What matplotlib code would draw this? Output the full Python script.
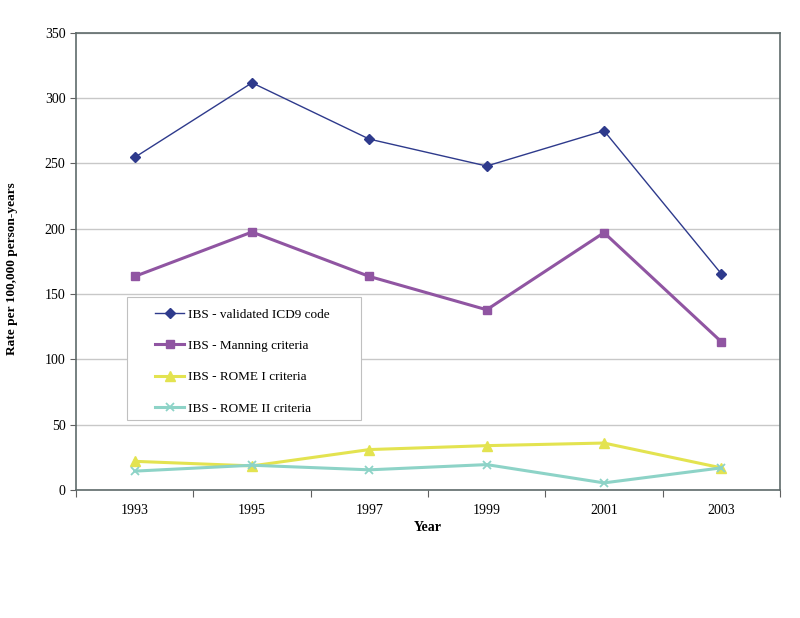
import numpy as np
import matplotlib
matplotlib.use('Agg')
import matplotlib.pyplot as plt
from matplotlib.patches import Rectangle

years = ['1993', '1995', '1997', '1999', '2001', '2003']
icd9 = [254.6, 311.7, 268.6, 248.0, 275.0, 165.5]
manning = [163.5, 197.5, 163.5, 138.0, 197.0, 113.5]
rome1 = [22.0, 18.5, 31.0, 34.0, 36.0, 17.0]
rome2 = [14.5, 19.0, 15.5, 19.5, 5.5, 17.0]

plt.rcParams['font.family'] = ['Liberation Serif', 'DejaVu Serif']

fig = plt.figure(figsize=(8, 6.18), dpi=100)
ax = fig.add_axes([0.095, 0.207, 0.88, 0.74])

x = np.arange(len(years)) + 0.5
ax.plot(x, icd9, color='#2E3A8C', lw=1.0, marker='D', ms=5, label='IBS - validated ICD9 code')
ax.plot(x, manning, color='#9055A2', lw=2.2, marker='s', ms=6, label='IBS - Manning criteria')
ax.plot(x, rome1, color='#E3E350', lw=2.2, marker='^', ms=7, label='IBS - ROME I criteria')
ax.plot(x, rome2, color='#8DD3C7', lw=2.2, marker='x', ms=6, mew=1.3, label='IBS - ROME II criteria')

ax.set_xlim(0, len(years))
ax.set_ylim(0, 350)
ax.set_yticks(np.arange(0, 351, 50))
ax.set_xticks(np.arange(0, len(years) + 1))
ax.set_xticklabels([])
ax.set_xticks(x, minor=True)
ax.set_xticklabels(years, minor=True)
ax.tick_params(axis='x', which='minor', length=0, pad=10, labelsize=10)
ax.tick_params(axis='x', which='major', length=5, direction='out', color='#606060')
ax.tick_params(axis='y', length=4, direction='out', color='#606060', labelsize=10)

ax.grid(axis='y', color='#C8C8C8', lw=1)
ax.set_axisbelow(True)
for s in ax.spines.values():
    s.set_color('#5F6B6B')
    s.set_linewidth(1.2)

ax.set_xlabel('Year', fontweight='bold', fontsize=10, labelpad=3)
ax.set_ylabel('Rate per 100,000 person-years', fontweight='bold', fontsize=9.6)
ax.yaxis.set_label_coords(-0.083, 0.484)

# legend box drawn separately (Excel-style wide inner margin)
box = Rectangle((0.0724, 0.153), 0.332, 0.269, transform=ax.transAxes,
                facecolor='white', edgecolor='#C0C0C0', lw=0.8, zorder=4)
ax.add_patch(box)
leg = ax.legend(loc='upper left', bbox_to_anchor=(0.0724 + 0.024, 0.422),
                borderaxespad=0, fontsize=9.5, frameon=False,
                handlelength=2.2, labelspacing=1.45, borderpad=0.85, handletextpad=0.3)
leg.set_zorder(5)

fig.savefig('out.png', dpi=100)
